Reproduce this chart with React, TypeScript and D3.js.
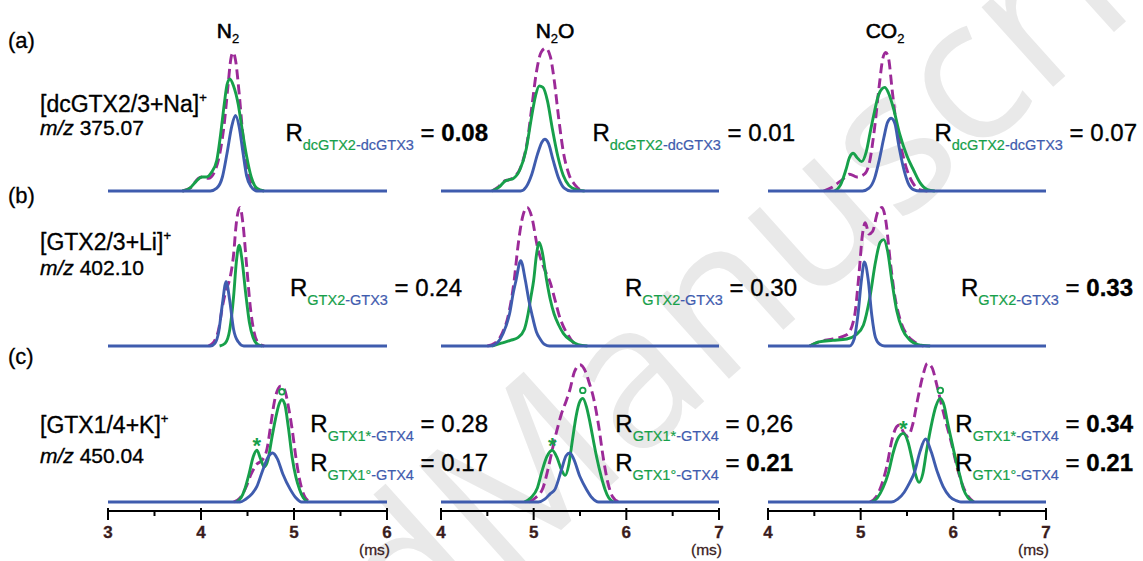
import React from 'react';
import * as d3 from 'd3';

type Pt = [number, number];

// Arrival time (ms) vs relative intensity for each ion / drift gas.
// "Sum" = mixture trace (dashed), "Green" / "Blue" = individual epimers.

// Row (a) [dcGTX2/3+Na]+
const aN2Sum: Pt[] = [[3.8,0],[3.9,3],[3.97,9],[4.02,10],[4.08,9],[4.14,13],[4.2,26],[4.25,48],[4.29,75],[4.32,94],[4.345,99],[4.37,94],[4.41,70],[4.45,40],[4.49,18],[4.54,6],[4.6,1],[4.7,0]];
const aN2Green: Pt[] = [[3.8,0],[3.88,2],[3.95,7],[4.01,10],[4.06,10],[4.11,13],[4.17,22],[4.21,40],[4.25,62],[4.28,76],[4.31,80],[4.35,75],[4.4,62],[4.44,45],[4.49,25],[4.54,10],[4.6,2],[4.68,0]];
const aN2Blue: Pt[] = [[3,0],[4.1,0],[4.17,2],[4.23,10],[4.28,27],[4.33,46],[4.37,54],[4.41,46],[4.45,28],[4.49,11],[4.54,3],[4.6,0],[6,0]];

const aN2OSum: Pt[] = [[4.55,0],[4.62,3],[4.68,7],[4.73,8],[4.79,10],[4.86,17],[4.93,35],[4.98,60],[5.03,85],[5.08,99],[5.13,102],[5.18,96],[5.22,80],[5.27,52],[5.32,28],[5.38,12],[5.45,4],[5.52,0]];
const aN2OGreen: Pt[] = [[4.55,0],[4.63,3],[4.69,7],[4.73,8],[4.78,9],[4.85,15],[4.92,30],[4.97,50],[5.02,68],[5.06,75],[5.1,74],[5.15,64],[5.2,45],[5.26,25],[5.32,11],[5.38,4],[5.46,1],[5.55,0]];
const aN2OBlue: Pt[] = [[4,0],[4.86,0],[4.92,3],[4.98,12],[5.04,26],[5.09,35],[5.12,37],[5.16,34],[5.21,22],[5.27,9],[5.33,2],[5.4,0],[7,0]];

const aCO2Sum: Pt[] = [[4.6,0],[4.7,3],[4.8,8],[4.88,12],[4.96,10],[5.04,12],[5.1,22],[5.15,45],[5.2,75],[5.24,95],[5.27,99],[5.3,95],[5.34,72],[5.39,45],[5.45,27],[5.5,15],[5.56,6],[5.63,1],[5.72,0]];
const aCO2Green: Pt[] = [[4.72,0],[4.78,4],[4.84,15],[4.88,24],[4.92,27],[4.96,24],[5.01,21],[5.06,28],[5.1,41],[5.15,57],[5.19,68],[5.23,73],[5.26,74],[5.3,70],[5.35,60],[5.42,41],[5.5,25],[5.57,15],[5.64,6],[5.72,1],[5.8,0]];
const aCO2Blue: Pt[] = [[4,0],[5.02,0],[5.09,2],[5.15,9],[5.2,22],[5.25,38],[5.29,49],[5.33,52],[5.37,48],[5.41,33],[5.46,17],[5.51,6],[5.57,1],[5.64,0],[7,0]];

// Row (b) [GTX2/3+Li]+
const bN2Sum: Pt[] = [[4.08,0],[4.14,3],[4.19,12],[4.23,28],[4.27,40],[4.31,48],[4.35,65],[4.38,88],[4.42,99],[4.45,88],[4.49,58],[4.53,28],[4.57,10],[4.62,2],[4.68,0]];
const bN2Green: Pt[] = [[4.2,0],[4.26,2],[4.31,12],[4.35,35],[4.38,60],[4.41,72],[4.44,62],[4.48,38],[4.52,17],[4.56,6],[4.61,1],[4.66,0]];
const bN2Blue: Pt[] = [[3,0],[4.1,0],[4.15,2],[4.19,10],[4.23,30],[4.27,46],[4.31,32],[4.35,12],[4.4,3],[4.46,0],[6,0]];

const bN2OSum: Pt[] = [[4.5,0],[4.58,2],[4.66,9],[4.73,23],[4.79,47],[4.83,71],[4.88,92],[4.93,99],[4.98,92],[5.04,71],[5.11,56],[5.18,45],[5.23,33],[5.27,23],[5.32,14],[5.37,8],[5.42,3],[5.48,0]];
const bN2OGreen: Pt[] = [[4.55,0],[4.65,2],[4.75,4],[4.83,6],[4.9,12],[4.94,23],[4.97,35],[5,47],[5.03,65],[5.06,74],[5.09,68],[5.14,47],[5.18,33],[5.22,23],[5.27,15],[5.32,9],[5.4,4],[5.48,1],[5.58,0]];
const bN2OBlue: Pt[] = [[4,0],[4.52,0],[4.58,1],[4.64,5],[4.7,14],[4.74,23],[4.78,38],[4.81,47],[4.86,61],[4.91,47],[4.95,32],[4.98,23],[5.03,10],[5.07,5],[5.12,1],[5.17,0],[7,0]];

const bCO2Sum: Pt[] = [[4.45,0],[4.55,3],[4.7,5],[4.85,8],[4.93,20],[4.98,50],[5.02,80],[5.05,88],[5.09,80],[5.13,82],[5.18,95],[5.23,99],[5.27,90],[5.32,60],[5.37,35],[5.43,18],[5.5,8],[5.58,3],[5.68,0]];
const bCO2Green: Pt[] = [[4.45,0],[4.55,3],[4.7,4],[4.85,5],[4.95,8],[5.03,15],[5.1,35],[5.16,60],[5.21,74],[5.25,76],[5.29,68],[5.34,45],[5.39,25],[5.45,12],[5.52,5],[5.62,1],[5.75,0]];
const bCO2Blue: Pt[] = [[4,0],[4.88,0],[4.93,5],[4.97,22],[5.01,48],[5.04,60],[5.08,48],[5.12,22],[5.16,6],[5.21,1],[5.26,0],[7,0]];

// Row (c) [GTX1/4+K]+
const cN2Sum: Pt[] = [[4.35,0],[4.42,3],[4.48,10],[4.54,20],[4.6,27],[4.66,30],[4.71,38],[4.75,55],[4.79,72],[4.83,81],[4.86,83],[4.9,80],[4.94,68],[4.98,52],[5.02,32],[5.06,16],[5.1,6],[5.15,1],[5.2,0]];
const cN2Green: Pt[] = [[4.38,0],[4.43,3],[4.47,9],[4.52,21],[4.56,32],[4.6,37],[4.64,31],[4.68,25],[4.72,30],[4.76,45],[4.8,59],[4.84,70],[4.87,73],[4.9,70],[4.94,53],[4.98,32],[5.02,18],[5.06,9],[5.1,3],[5.15,0]];
const cN2Blue: Pt[] = [[3,0],[4.42,0],[4.48,2],[4.55,6],[4.6,11],[4.66,22],[4.72,32],[4.77,35],[4.82,31],[4.88,20],[4.96,9],[5.02,3],[5.08,0],[6,0]];

const cN2OSum: Pt[] = [[4.95,0],[5.02,3],[5.1,10],[5.16,25],[5.21,40],[5.25,51],[5.3,63],[5.35,72],[5.39,80],[5.44,93],[5.5,98],[5.56,93],[5.6,85],[5.64,76],[5.7,55],[5.75,32],[5.8,14],[5.85,4],[5.92,0]];
const cN2OGreen: Pt[] = [[4.9,0],[4.97,3],[5.04,10],[5.09,22],[5.14,32],[5.2,37],[5.25,32],[5.3,23],[5.34,19],[5.38,27],[5.42,45],[5.46,62],[5.5,72],[5.53,74],[5.57,68],[5.61,56],[5.65,42],[5.68,32],[5.73,18],[5.77,9],[5.81,3],[5.86,0]];
const cN2OBlue: Pt[] = [[4,0],[5.05,0],[5.12,2],[5.18,6],[5.23,9],[5.3,23],[5.35,33],[5.39,35],[5.43,31],[5.5,18],[5.57,9],[5.63,3],[5.7,0],[7,0]];

const cCO2Sum: Pt[] = [[5.1,0],[5.17,4],[5.23,13],[5.28,25],[5.34,45],[5.39,54],[5.42,55],[5.46,50],[5.51,47],[5.56,55],[5.62,75],[5.67,90],[5.72,99],[5.77,96],[5.82,84],[5.87,70],[5.92,57],[5.98,42],[6.04,25],[6.1,12],[6.16,4],[6.22,0]];
const cCO2Green: Pt[] = [[5.12,0],[5.18,3],[5.24,10],[5.3,21],[5.35,35],[5.4,45],[5.46,49],[5.51,43],[5.55,32],[5.59,20],[5.63,14],[5.67,20],[5.71,36],[5.76,54],[5.81,68],[5.86,74],[5.9,69],[5.94,56],[5.98,44],[6.02,32],[6.07,19],[6.11,9],[6.16,3],[6.22,0]];
const cCO2Blue: Pt[] = [[4,0],[5.33,0],[5.4,2],[5.47,7],[5.53,14],[5.58,21],[5.64,36],[5.7,45],[5.76,36],[5.83,21],[5.89,11],[5.96,4],[6.03,1],[6.08,0],[7,0]];

// Peaks marked with * (GTX1*) and o (GTX1°) in row (c)
const starPeaks: Pt[] = [[4.6,37],[5.2,37],[5.46,49]];
const circlePeaks: Pt[] = [[4.87,73],[5.53,74],[5.86,74]];

// Axis domains (ms) per drift gas
const xDomains: [number, number][] = [[3,6],[4,7],[4,7]];

// Labels
const panelTags = ['(a)', '(b)', '(c)'];
const gasMain = ['N', 'N', 'CO'];
const gasSub = ['2', '2', '2'];
const gasTail = ['', 'O', ''];
const ionLabels = ['[dcGTX2/3+Na]', '[GTX2/3+Li]', '[GTX1/4+K]'];
const mzValues = ['375.07', '402.10', '450.04'];

type Ratio = { g: string; b: string; v: string; bold: boolean };
const ratiosA: Ratio[] = [
  { g: 'dcGTX2', b: '-dcGTX3', v: '0.08', bold: true },
  { g: 'dcGTX2', b: '-dcGTX3', v: '0.01', bold: false },
  { g: 'dcGTX2', b: '-dcGTX3', v: '0.07', bold: false },
];
const ratiosB: Ratio[] = [
  { g: 'GTX2', b: '-GTX3', v: '0.24', bold: false },
  { g: 'GTX2', b: '-GTX3', v: '0.30', bold: false },
  { g: 'GTX2', b: '-GTX3', v: '0.33', bold: true },
];
const ratiosC1: Ratio[] = [
  { g: 'GTX1*', b: '-GTX4', v: '0.28', bold: false },
  { g: 'GTX1*', b: '-GTX4', v: '0,26', bold: false },
  { g: 'GTX1*', b: '-GTX4', v: '0.34', bold: true },
];
const ratiosC2: Ratio[] = [
  { g: 'GTX1°', b: '-GTX4', v: '0.17', bold: false },
  { g: 'GTX1°', b: '-GTX4', v: '0.21', bold: true },
  { g: 'GTX1°', b: '-GTX4', v: '0.21', bold: true },
];

const traces: Pt[][][][] = [
  [[aN2Sum, aN2Green, aN2Blue], [aN2OSum, aN2OGreen, aN2OBlue], [aCO2Sum, aCO2Green, aCO2Blue]],
  [[bN2Sum, bN2Green, bN2Blue], [bN2OSum, bN2OGreen, bN2OBlue], [bCO2Sum, bCO2Green, bCO2Blue]],
  [[cN2Sum, cN2Green, cN2Blue], [cN2OSum, cN2OGreen, cN2OBlue], [cCO2Sum, cCO2Green, cCO2Blue]],
];

const W = 1143;
const H = 561;
const FONT = '"Liberation Sans", Arial, Helvetica, sans-serif';
const GREEN = '#17a04a';
const BLUE = '#3f5cae';
const PURPLE = '#9c2a98';
const TICK_COLOR = '#3a1c1c';

const xRanges: [number, number][] = [[108, 387], [441, 719], [768, 1046]];
const baselines = [191, 346, 502];
const axisY = 511;

const xScales = xDomains.map((d, i) => d3.scaleLinear().domain(d).range(xRanges[i]));
const yScales = baselines.map((b) => d3.scaleLinear().domain([0, 100]).range([b, b - 140]));

function RatioLabel({ r, x, y }: { r: Ratio; x: number; y: number }) {
  return (
    <text x={x} y={y} textAnchor="end" fontFamily={FONT} fontSize={24} fill="#000" stroke="#000" strokeWidth={0.35}>
      <tspan>R</tspan>
      <tspan fontSize={14.5} dy={9} fill={GREEN} stroke={GREEN} strokeWidth={0.2}>{r.g}</tspan>
      <tspan fontSize={14.5} fill={BLUE} stroke={BLUE} strokeWidth={0.2}>{r.b}</tspan>
      <tspan dy={-9}> = </tspan>
      <tspan fontWeight={r.bold ? 'bold' : 'normal'}>{r.v}</tspan>
    </text>
  );
}

export default function App() {
  const ratioEnds = [488, 795, 1137];
  const ratioEndsB = [462, 797, 1133];
  return (
    <svg width={W} height={H} viewBox={`0 0 ${W} ${H}`} style={{ position: 'absolute', left: 0, top: 0, background: '#fff' }}>
      <rect width={W} height={H} fill="#fff" />
      {/* background watermark */}
      <g transform="translate(500,585) rotate(-42)" fontFamily='"Open Sans", sans-serif' fontSize={200} fill="#e9e9e9">
        <text x={0} y={0} textAnchor="end">Accepted </text>
        <text x={0} y={0}>Manuscript</text>
      </g>

      {/* panel tags and gas titles */}
      {panelTags.map((t, i) => (
        <text key={t} x={8} y={[48, 203, 364][i]} fontFamily={FONT} fontSize={22} stroke="#000" strokeWidth={0.3}>{t}</text>
      ))}
      {gasMain.map((g, i) => (
        <text key={i} x={[228, 555, 885][i]} y={38} textAnchor="middle" fontFamily={FONT} fontSize={21} stroke="#000" strokeWidth={0.6}>
          <tspan>{g}</tspan>
          <tspan fontSize={13} dy={5} strokeWidth={0.3}>{gasSub[i]}</tspan>
          <tspan dy={-5}>{gasTail[i]}</tspan>
        </text>
      ))}

      {/* ion labels */}
      {ionLabels.map((l, i) => (
        <g key={l} fontFamily={FONT} stroke="#000" strokeWidth={0.35}>
          <text x={40} y={[112, 250, 433][i]} fontSize={23}>
            <tspan>{l}</tspan>
            <tspan fontSize={13} dy={-10}>+</tspan>
          </text>
          <text x={40} y={[135, 275, 463][i]} fontSize={21}>
            <tspan fontStyle="italic">m/z</tspan>
            <tspan> {mzValues[i]}</tspan>
          </text>
        </g>
      ))}

      {/* traces */}
      {traces.map((row, ri) =>
        row.map((panel, ci) => {
          const x = xScales[ci];
          const y = yScales[ri];
          const line = d3.line<Pt>().x((d) => x(d[0])).y((d) => y(d[1])).curve(d3.curveMonotoneX);
          return (
            <g key={`${ri}-${ci}`} fill="none" strokeWidth={2.9} strokeLinejoin="round">
              <path d={line(panel[0]) || ''} stroke={PURPLE} strokeDasharray="10,5" />
              <path d={line(panel[1]) || ''} stroke={GREEN} />
              <path d={line(panel[2]) || ''} stroke={BLUE} />
            </g>
          );
        })
      )}

      {/* peak markers */}
      {starPeaks.map((p, i) => (
        <text key={`s${i}`} x={xScales[i](p[0])} y={yScales[2](p[1]) + 3} textAnchor="middle" fontFamily={FONT} fontSize={22} fontWeight="bold" fill={GREEN}>*</text>
      ))}
      {circlePeaks.map((p, i) => (
        <circle key={`c${i}`} cx={xScales[i](p[0])} cy={yScales[2](p[1]) - 8} r={2.8} fill="none" stroke={GREEN} strokeWidth={1.8} />
      ))}

      {/* ratio labels */}
      {ratiosA.map((r, i) => <RatioLabel key={`a${i}`} r={r} x={ratioEnds[i]} y={141} />)}
      {ratiosB.map((r, i) => <RatioLabel key={`b${i}`} r={r} x={ratioEndsB[i]} y={296} />)}
      {ratiosC1.map((r, i) => <RatioLabel key={`c1${i}`} r={r} x={[488, 793, 1133][i]} y={432} />)}
      {ratiosC2.map((r, i) => <RatioLabel key={`c2${i}`} r={r} x={[488, 793, 1133][i]} y={471} />)}

      {/* time axes */}
      {xScales.map((x, i) => {
        const [d0, d1] = x.domain();
        const majors = x.ticks(3);
        const minors = d3.range(d0 + 0.5, d1, 1);
        return (
          <g key={`ax${i}`} stroke="#000">
            <line x1={x(d0)} x2={x(d1)} y1={axisY} y2={axisY} strokeWidth={2} />
            {majors.map((t) => (
              <line key={t} x1={x(t)} x2={x(t)} y1={axisY - 3} y2={axisY + 9} strokeWidth={2} />
            ))}
            {minors.map((t) => (
              <line key={t} x1={x(t)} x2={x(t)} y1={axisY} y2={axisY + 5} strokeWidth={2} />
            ))}
            {majors.map((t) => (
              <text key={`l${t}`} x={x(t)} y={538} textAnchor="middle" stroke={TICK_COLOR} strokeWidth={0.3} fill={TICK_COLOR} fontFamily={FONT} fontWeight="bold" fontSize={17}>{t}</text>
            ))}
            <text x={x(d1) + 3} y={555} textAnchor="end" stroke={TICK_COLOR} strokeWidth={0.3} fill={TICK_COLOR} fontFamily={FONT} fontSize={15.5}>(ms)</text>
          </g>
        );
      })}
    </svg>
  );
}
